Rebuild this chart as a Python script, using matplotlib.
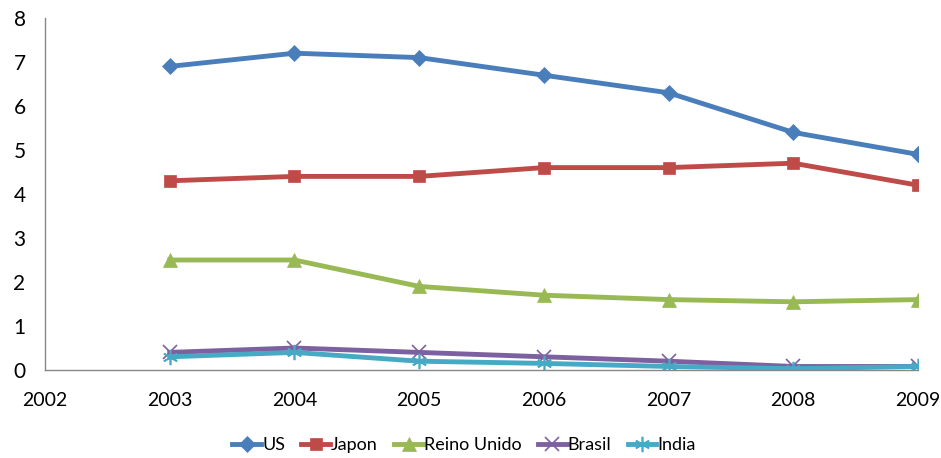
import matplotlib.pyplot as plt

years = [2003, 2004, 2005, 2006, 2007, 2008, 2009]
us = [6.9, 7.2, 7.1, 6.7, 6.3, 5.4, 4.9]
japon = [4.3, 4.4, 4.4, 4.6, 4.6, 4.7, 4.2]
reino_unido = [2.5, 2.5, 1.9, 1.7, 1.6, 1.55, 1.6]
brasil = [0.4, 0.5, 0.4, 0.3, 0.2, 0.08, 0.08]
india = [0.3, 0.4, 0.2, 0.15, 0.08, 0.03, 0.08]

plt.rcParams['font.family'] = ['Lato', 'DejaVu Sans']

fig = plt.figure(figsize=(9.41, 4.58), dpi=100)
ax = fig.add_axes([45 / 941, 1 - 370 / 458, 873 / 941, 352 / 458])

series = [
    ('US', us, '#4A7EBB', 'D', 8),
    ('Japon', japon, '#BE4B48', 's', 9),
    ('Reino Unido', reino_unido, '#98B954', '^', 10),
    ('Brasil', brasil, '#7D60A0', 'x', 10),
    ('India', india, '#46AAC5', (6, 2, 0), 11),
]
for name, vals, color, marker, ms in series:
    thin = marker == 'x' or isinstance(marker, tuple)
    ax.plot(years, vals, color=color, lw=3.5, marker=marker, markersize=ms,
            markeredgewidth=1.2 if thin else 0.5,
            markeredgecolor=color, label=name)

ax.set_xlim(2002, 2009)
ax.set_ylim(0, 8)
ax.set_xticks(range(2002, 2010))
ax.set_yticks(range(0, 9))
ax.tick_params(axis='both', length=0, labelsize=15, colors='black')
ax.tick_params(axis='x', pad=16, labelsize=14)
ax.tick_params(axis='y', pad=14)
for s in ['top', 'right']:
    ax.spines[s].set_visible(False)
for s in ['left', 'bottom']:
    ax.spines[s].set_color('#888888')
    ax.spines[s].set_linewidth(1)

fig.legend(loc='center', bbox_to_anchor=(464 / 941, 1 - 445 / 458), ncol=5, frameon=False,
           fontsize=13, handlelength=1.6, handletextpad=0.05, columnspacing=0.9,
           borderaxespad=0)

fig.savefig('out.png', dpi=100)
